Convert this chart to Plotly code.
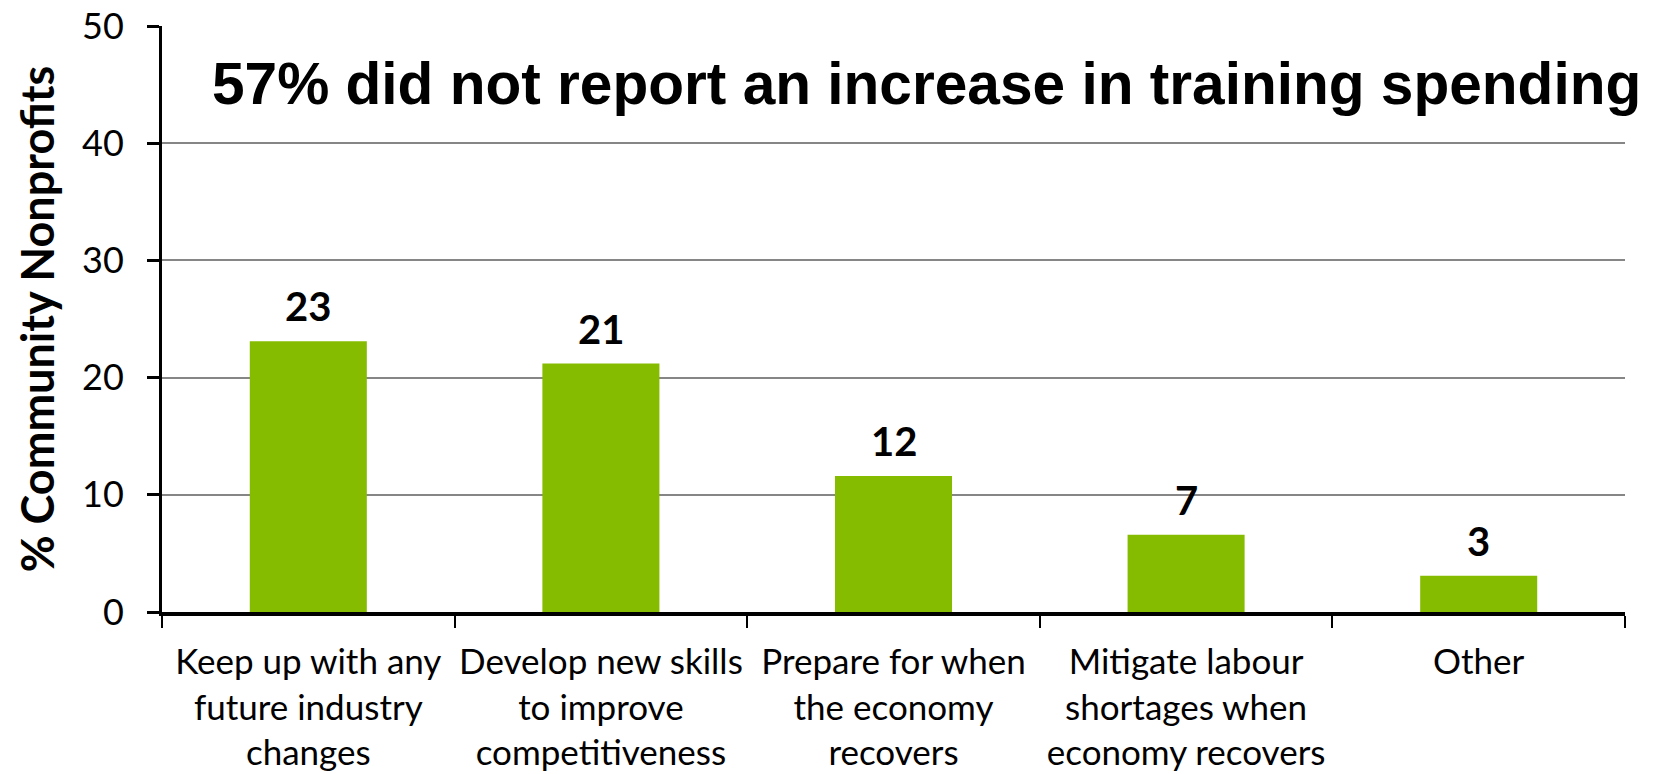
import plotly.graph_objects as go

# Reasons community nonprofits gave for raising training spending
categories = [
    "Keep up with any<br>future industry<br>changes",
    "Develop new skills<br>to improve<br>competitiveness",
    "Prepare for when<br>the economy<br>recovers",
    "Mitigate labour<br>shortages when<br>economy recovers",
    "Other",
]
percent = [23.1, 21.2, 11.6, 6.6, 3.1]
y_ticks = [0, 10, 20, 30, 40, 50]
headline = "57% did not report an increase in training spending"
y_title = "% Community Nonprofits"

BAR_GREEN = "#86BC00"
GRID_GREY = "#868686"
LABEL_FONT = "Lato, 'Open Sans', sans-serif"

fig = go.Figure()
fig.add_trace(
    go.Bar(
        x=categories,
        y=percent,
        marker=dict(color=BAR_GREEN, line=dict(width=0)),
        width=0.4,
        hoverinfo="x+y",
    )
)

# value labels above each bar, rounded to whole percent
for cat, val in zip(categories, percent):
    fig.add_annotation(
        x=cat,
        y=val,
        xref="x",
        yref="y",
        text=f"{val:.0f}",
        showarrow=False,
        yanchor="bottom",
        yshift=9,
        font=dict(family=LABEL_FONT, size=40, color="black", weight="bold"),
    )

# headline inside the plot area
fig.add_annotation(
    x=0.0325,
    y=0.902,
    xref="paper",
    yref="paper",
    xanchor="left",
    yanchor="middle",
    text=headline,
    showarrow=False,
    font=dict(family="'Liberation Sans', Arial, sans-serif", size=58.6, color="black", weight="bold"),
)

fig.update_layout(
    width=1658,
    height=774,
    margin=dict(l=162, r=33, t=26, b=162),
    paper_bgcolor="white",
    plot_bgcolor="white",
    showlegend=False,
    bargap=0.6,
    xaxis=dict(
        type="category",
        automargin=False,
        tickangle=0,
        tickson="boundaries",
        ticks="outside",
        ticklen=12,
        tickwidth=2,
        tickcolor="black",
        showline=True,
        linecolor="black",
        linewidth=4,
        showgrid=False,
        tickfont=dict(family=LABEL_FONT, size=35, color="black"),
        ticklabelstandoff=16,
    ),
    yaxis=dict(
        range=[0, 50],
        automargin=False,
        tickvals=y_ticks,
        ticks="outside",
        ticklen=12,
        tickwidth=3,
        tickcolor="black",
        showline=True,
        linecolor="black",
        linewidth=3,
        showgrid=True,
        gridcolor=GRID_GREY,
        gridwidth=2,
        zeroline=False,
        tickfont=dict(family=LABEL_FONT, size=36, color="black"),
        ticklabelstandoff=16,
        title=dict(
            text=y_title,
            font=dict(family=LABEL_FONT, size=45, color="black", weight="bold"),
            standoff=14,
        ),
    ),
)

fig.write_html("out.html")
